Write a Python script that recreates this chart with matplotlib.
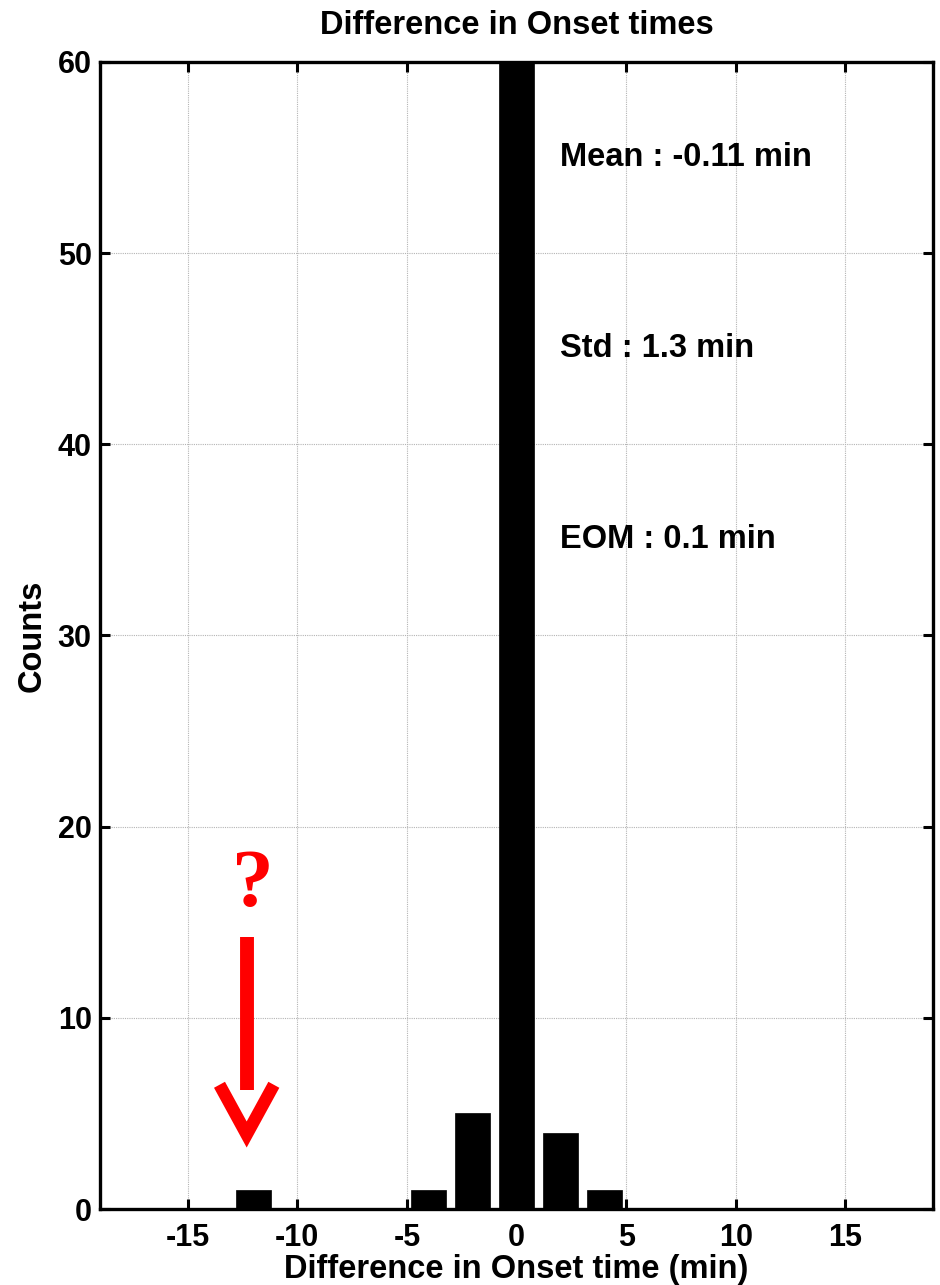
"""Histogram of onset time differences with summary statistics."""

import matplotlib

matplotlib.use("Agg")
import matplotlib.pyplot as plt

# histogram bins (centres, min) and counts
bin_centers = [-12, -4, -2, 0, 2, 4]
counts = [1, 1, 5, 115, 4, 1]
bar_width = 1.6

x_ticks = [-15, -10, -5, 0, 5, 10, 15]
y_ticks = [0, 10, 20, 30, 40, 50, 60]

stats_labels = ["Mean : -0.11 min", "Std : 1.3 min", "EOM : 0.1 min"]
stats_y = [55, 45, 35]

FONT = "Liberation Sans"

fig = plt.figure(figsize=(9.4, 12.85), dpi=100)
ax = fig.add_axes([0.1064, 0.0591, 0.8862, 0.8927])

ax.bar(bin_centers, counts, width=bar_width, color="black",
       edgecolor="black", linewidth=0.5, zorder=2)

ax.set_xlim(-19, 19)
ax.set_ylim(0, 60)
ax.set_xticks(x_ticks)
ax.set_yticks(y_ticks)
ax.set_xticklabels([str(t) for t in x_ticks], fontsize=22,
                   fontweight="bold", family=FONT)
ax.set_yticklabels([str(t) for t in y_ticks], fontsize=22,
                   fontweight="bold", family=FONT)

ax.grid(True, linestyle=(0, (1, 1)), color="#b4b4b4", linewidth=0.8, zorder=0)
ax.set_axisbelow(True)

ax.tick_params(direction="in", length=7.5, width=2.2, top=True, right=True)
ax.tick_params(axis="x", pad=10)
ax.tick_params(axis="y", pad=6)
for spine in ax.spines.values():
    spine.set_linewidth(2.4)
    spine.set_zorder(3)

ax.set_title("Difference in Onset times", fontsize=23.5, fontweight="bold",
             family=FONT, pad=20)
ax.set_xlabel("Difference in Onset time (min)", fontsize=23.5,
              fontweight="bold", family=FONT, labelpad=1)
ax.set_ylabel("Counts", fontsize=23.5, fontweight="bold", family=FONT,
              labelpad=7)

for label, y in zip(stats_labels, stats_y):
    ax.text(2, y, label, fontsize=23.5, fontweight="bold", family=FONT,
            ha="left", va="center")

# red marker pointing at the outlier bin
ax.text(-12.04, 15.85, "?", color="red", fontsize=60, fontweight="bold",
        family="Liberation Serif", ha="center", va="baseline")
ax.plot([-12.31, -12.31], [14.23, 6.22], color="red", linewidth=10,
        solid_capstyle="butt")
ax.plot([-13.55, -12.31, -11.07], [6.5, 3.9, 6.5], color="red", linewidth=9,
        solid_capstyle="butt", solid_joinstyle="miter")

fig.savefig("out.png", dpi=100)
